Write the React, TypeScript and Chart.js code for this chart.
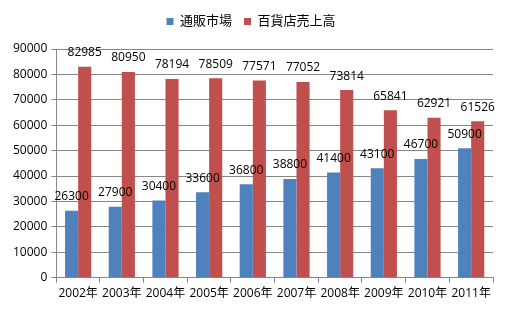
import React, { useEffect, useRef } from "react";
import { Chart, registerables } from "chart.js";

Chart.register(...registerables);

const categories = ["2002年", "2003年", "2004年", "2005年", "2006年", "2007年", "2008年", "2009年", "2010年", "2011年"];
const tsuhan = [26300, 27900, 30400, 33600, 36800, 38800, 41400, 43100, 46700, 50900];
const hyakkaten = [82985, 80950, 78194, 78509, 77571, 77052, 73814, 65841, 62921, 61526];
const seriesNames = ["通販市場", "百貨店売上高"];

const FONT = "'Open Sans', 'Noto Sans CJK JP', sans-serif";

const labelPlugin = {
  id: "barLabels",
  afterDatasetsDraw(chart: any) {
    const ctx = chart.ctx;
    ctx.save();
    ctx.font = `12px ${FONT}`;
    ctx.fillStyle = "#000";
    ctx.textAlign = "center";
    ctx.textBaseline = "bottom";
    chart.data.datasets.forEach((ds: any, di: number) => {
      const meta = chart.getDatasetMeta(di);
      meta.data.forEach((el: any, i: number) => {
        ctx.fillText(String(ds.data[i]), el.x, el.y - 8);
      });
    });
    ctx.restore();
  },
};

const legendMargin = {
  id: "legendMargin",
  beforeInit(chart: any) {
    const legend = chart.legend;
    if (!legend) return;
    const origFit = legend.fit;
    legend.fit = function () {
      origFit.bind(legend)();
      this.height += 11;
    };
  },
};

export default function App() {
  const ref = useRef<HTMLCanvasElement>(null);
  useEffect(() => {
    if (!ref.current) return;
    const chart = new Chart(ref.current, {
      type: "bar",
      data: {
        labels: categories,
        datasets: [
          { label: seriesNames[0], data: tsuhan, backgroundColor: "#4F81BD" },
          { label: seriesNames[1], data: hyakkaten, backgroundColor: "#C0504D" },
        ],
      },
      options: {
        responsive: false,
        animation: false,
        layout: { padding: { left: 9, right: 16, top: 3, bottom: 8 } },
        plugins: {
          legend: {
            position: "top",
            labels: {
              boxWidth: 7,
              boxHeight: 7,
              color: "#000",
              font: { family: FONT, size: 13 },
              padding: 12,
            },
          },
          tooltip: { enabled: false },
        },
        datasets: { bar: { categoryPercentage: 0.6, barPercentage: 1 } },
        scales: {
          x: {
            grid: { drawOnChartArea: false, drawTicks: true, tickLength: 5, color: "#868686", offset: true },
            border: { color: "#868686" },
            ticks: { color: "#000", font: { family: FONT, size: 12 }, maxRotation: 0, padding: 4 },
          },
          y: {
            min: 0,
            max: 90000,
            ticks: {
              stepSize: 10000,
              color: "#000",
              font: { family: FONT, size: 12 },
              padding: 4,
              callback: (v: any) => String(v),
            },
            grid: { color: "#868686", tickLength: 5 },
            border: { color: "#868686" },
          },
        },
      },
      plugins: [legendMargin, labelPlugin],
    });
    return () => chart.destroy();
  }, []);
  return (
    <div style={{ position: "fixed", left: 0, top: 0, width: 509, height: 313, background: "#fff" }}>
      <canvas ref={ref} width={509} height={313} />
    </div>
  );
}
